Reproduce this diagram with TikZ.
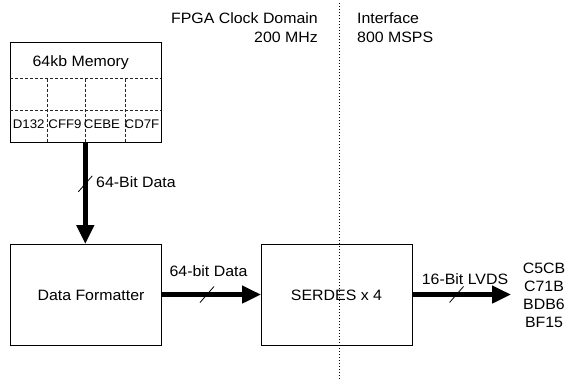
\documentclass[tikz,border=0pt]{standalone}
\usepackage{fontspec}
\setmainfont[FakeStretch=1.06]{Liberation Sans}
\usetikzlibrary{arrows.meta,calc}
\tikzset{
  blk/.style={draw, line width=0.8pt, inner sep=0pt, minimum width=151pt},
  grid/.style={densely dashed, line width=0.6pt, black!85},
  lbl/.style={inner sep=0pt, font=\fontsize{15}{19.4}\selectfont},
  cell/.style={inner sep=0pt, anchor=base, font=\fontsize{12.5}{14}\selectfont},
  bigarrow/.style={line width=4.6pt, -{Triangle[length=19pt,width=17pt]}},
  slash/.style={line width=0.8pt},
  divider/.style={line width=1pt, dash pattern=on 1.2pt off 1.8pt}
}
\begin{document}
\begin{tikzpicture}[x=1pt,y=-1pt]
\useasboundingbox (0,0) rectangle (568,381);
% memory block
\node[blk, minimum height=100pt] (mem) at (85.5,92) {};
\node[lbl, anchor=base] (memt) at (80.8,66.5) {64kb Memory};
\coordinate (r1l) at (10,78.5); \coordinate (r1r) at (161,78.5);
\coordinate (r2l) at (10,110.7); \coordinate (r2r) at (161,110.7);
\draw[grid] (r1l) -- (r1r);
\draw[grid] (r2l) -- (r2r);
\coordinate (v1t) at (47.2,78.5); \coordinate (v1b) at (47.2,142);
\coordinate (v2t) at (85,78.5); \coordinate (v2b) at (85,142);
\coordinate (v3t) at (125,78.5); \coordinate (v3b) at (125,142);
\draw[grid] (v1t) -- (v1b);
\draw[grid] (v2t) -- (v2b);
\draw[grid] (v3t) -- (v3b);
\node[cell] (c1) at (28.7,128.3) {D132};
\node[cell] (c2) at (65,128.3) {CFF9};
\node[cell] (c3) at (102,128.3) {CEBE};
\node[cell] (c4) at (142,128.3) {CD7F};
% blocks
\node[blk, minimum height=101pt] (df) at (85.5,294.5) {};
\node[lbl, anchor=base] (dft) at (91,300) {Data Formatter};
\node[blk, minimum height=101pt] (ser) at (336.5,294.5) {};
\node[lbl, anchor=base] (sert) at (336.5,300) {SERDES x 4};
% domain divider
\coordinate (dtop) at (339,3);
\coordinate (dbot) at (339,380);
\draw[divider] (dtop) -- (dbot);
% header texts
\node[lbl, align=right, anchor=north east] (fpga) at (318,12.4) {FPGA Clock Domain\\200 MHz};
\node[lbl, align=left, anchor=north west] (intf) at (357,12.4) {Interface\\800 MSPS};
% arrows
\coordinate (memb) at (85.3,142);
\coordinate (dfn) at (85.3,244);
\draw[bigarrow] (memb) -- (dfn);
\path (memb) -- (dfn) coordinate[pos=0.41] (s1);
\draw[slash] ($(s1)+(-7,8)$) -- ($(s1)+(7,-8)$);
\node[lbl, anchor=base west] (l1) at (96,187.5) {64-Bit Data};
\coordinate (a2s) at (161,294.5);
\coordinate (a2e) at (261,294.5);
\draw[bigarrow] (a2s) -- (a2e);
\path (a2s) -- (a2e) coordinate[pos=0.46] (s2);
\draw[slash] ($(s2)+(-7,8)$) -- ($(s2)+(7,-8)$);
\node[lbl, anchor=base] (l2) at (208.5,276.5) {64-bit Data};
\coordinate (a3s) at (412,294.5);
\coordinate (a3e) at (511,294.5);
\draw[bigarrow] (a3s) -- (a3e);
\path (a3s) -- (a3e) coordinate[pos=0.45] (s3);
\draw[slash] ($(s3)+(-7,8)$) -- ($(s3)+(7,-8)$);
\node[lbl, anchor=base] (l3) at (465,284) {16-Bit LVDS};
\node[lbl, align=center, anchor=north, font=\fontsize{15}{17.8}\selectfont] (out) at (544,263.2) {C5CB\\C71B\\BDB6\\BF15};
\end{tikzpicture}
\end{document}
